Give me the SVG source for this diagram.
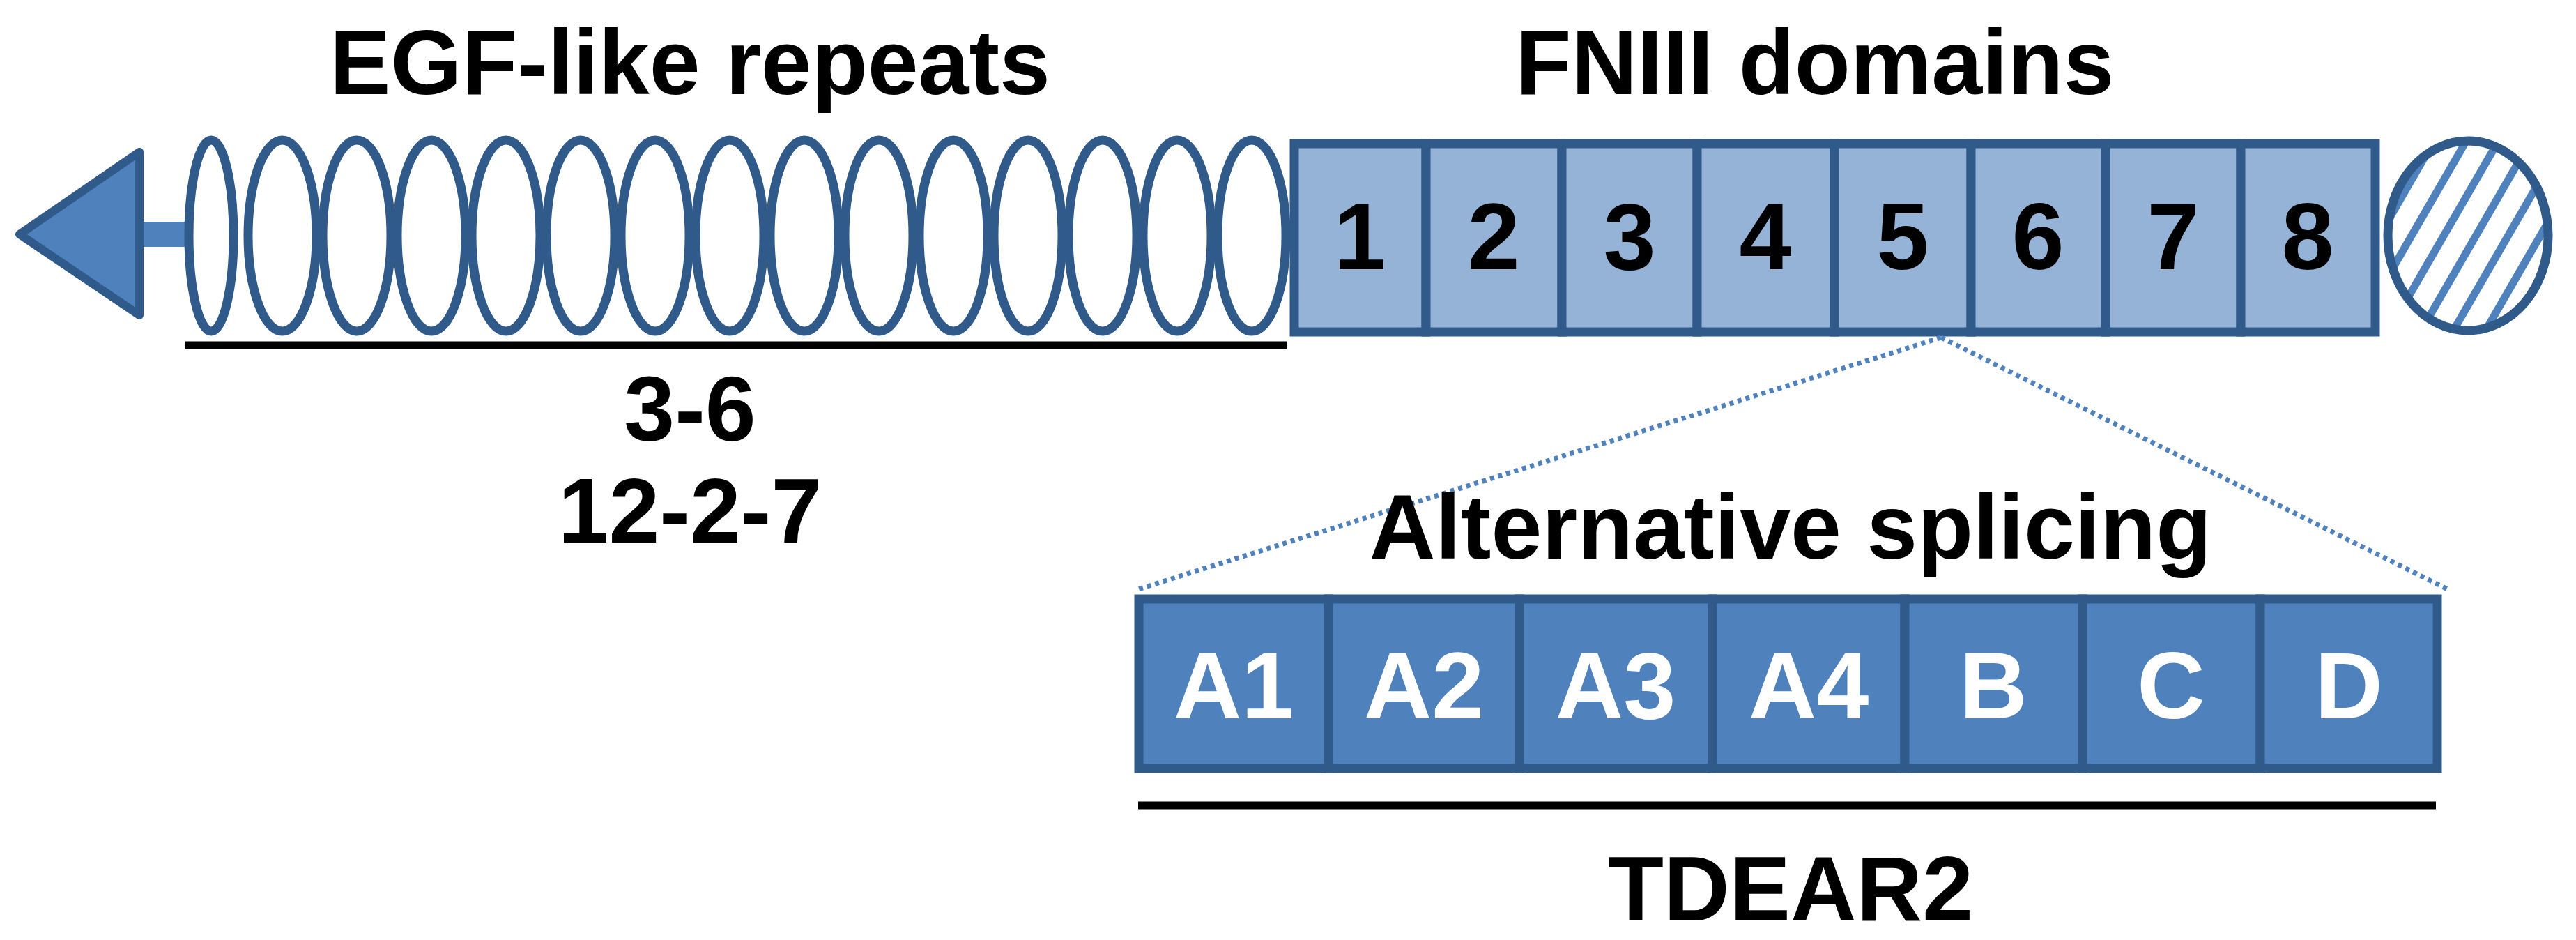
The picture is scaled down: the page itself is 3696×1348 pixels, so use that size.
<svg xmlns="http://www.w3.org/2000/svg" width="3696" height="1348" viewBox="0 0 3696 1348">
<style>
.t{font-family:"Liberation Sans",Arial,sans-serif;font-weight:bold;font-size:131px;text-anchor:middle;fill:#000}
.n{font-family:"Liberation Sans",Arial,sans-serif;font-weight:bold;font-size:135px;text-anchor:middle;fill:#000}
.w{fill:#fff}
.egf{fill:#fff;stroke:#2F5A8A;stroke-width:13}
.cell{fill:#95B3D7;stroke:#2F5A8A;stroke-width:13}
.cell2{fill:#4F81BD;stroke:#2F5A8A;stroke-width:13}
.ul{stroke:#000;stroke-width:11}
.dot{stroke:#4F81BD;stroke-width:7;stroke-dasharray:6 6;fill:none}
</style>
<defs>
<pattern id="hatch" patternUnits="userSpaceOnUse" width="40" height="40" patternTransform="rotate(-60)">
<rect width="40" height="40" fill="#fff"/>
<rect width="40" height="11" fill="#4F81BD"/>
</pattern>
</defs>
<rect width="3696" height="1348" fill="#fff"/>
<g id="titles">
<text class="t" x="990" y="135">EGF-like repeats</text>
<text class="t" x="2604" y="135">FNIII domains</text>
</g>
<g id="arrow">
<rect x="195" y="318" width="75" height="36" fill="#4F81BD"/>
<polygon points="200,218 200,452 28,336" fill="#4F81BD" stroke="#2F5A8A" stroke-width="12" stroke-linejoin="round"/>
</g>
<g id="egf">
<ellipse class="egf" cx="303" cy="338" rx="32" ry="137"/>
<ellipse class="egf" cx="405" cy="338" rx="49" ry="137"/>
<ellipse class="egf" cx="512" cy="338" rx="49" ry="137"/>
<ellipse class="egf" cx="619" cy="338" rx="49" ry="137"/>
<ellipse class="egf" cx="726" cy="338" rx="49" ry="137"/>
<ellipse class="egf" cx="833" cy="338" rx="49" ry="137"/>
<ellipse class="egf" cx="940" cy="338" rx="49" ry="137"/>
<ellipse class="egf" cx="1047" cy="338" rx="49" ry="137"/>
<ellipse class="egf" cx="1154" cy="338" rx="49" ry="137"/>
<ellipse class="egf" cx="1261" cy="338" rx="49" ry="137"/>
<ellipse class="egf" cx="1368" cy="338" rx="49" ry="137"/>
<ellipse class="egf" cx="1475" cy="338" rx="49" ry="137"/>
<ellipse class="egf" cx="1582" cy="338" rx="49" ry="137"/>
<ellipse class="egf" cx="1689" cy="338" rx="49" ry="137"/>
<ellipse class="egf" cx="1796" cy="338" rx="49" ry="137"/>
</g>
<g id="fn3">
<rect class="cell" x="1857" y="206" width="189" height="270"/>
<rect class="cell" x="2046" y="206" width="195" height="270"/>
<rect class="cell" x="2241" y="206" width="194" height="270"/>
<rect class="cell" x="2435" y="206" width="197" height="270"/>
<rect class="cell" x="2632" y="206" width="196" height="270"/>
<rect class="cell" x="2828" y="206" width="193" height="270"/>
<rect class="cell" x="3021" y="206" width="194" height="270"/>
<rect class="cell" x="3215" y="206" width="193" height="270"/>
<text class="n" x="1951" y="386">1</text>
<text class="n" x="2143" y="386">2</text>
<text class="n" x="2338" y="386">3</text>
<text class="n" x="2533" y="386">4</text>
<text class="n" x="2730" y="386">5</text>
<text class="n" x="2924" y="386">6</text>
<text class="n" x="3118" y="386">7</text>
<text class="n" x="3311" y="386">8</text>
</g>
<g id="tm">
<ellipse cx="3541" cy="338" rx="115" ry="136" fill="url(#hatch)" stroke="#2F5A8A" stroke-width="13"/>
</g>
<g id="egf-label">
<line class="ul" x1="266" y1="495" x2="1846" y2="495"/>
<text class="t" x="990" y="632">3-6</text>
<text class="t" x="990" y="778">12-2-7</text>
</g>
<g id="connectors">
<line class="dot" x1="2785" y1="484" x2="1633" y2="845"/>
<line class="dot" x1="2785" y1="484" x2="3512" y2="845"/>
</g>
<g id="splice">
<text class="t" x="2569" y="801">Alternative splicing</text>
<rect class="cell2" x="1634" y="859" width="272" height="243"/>
<rect class="cell2" x="1906" y="859" width="274" height="243"/>
<rect class="cell2" x="2180" y="859" width="277" height="243"/>
<rect class="cell2" x="2457" y="859" width="276" height="243"/>
<rect class="cell2" x="2733" y="859" width="255" height="243"/>
<rect class="cell2" x="2988" y="859" width="255" height="243"/>
<rect class="cell2" x="3243" y="859" width="254" height="243"/>
<text class="n w" x="1770" y="1030">A1</text>
<text class="n w" x="2043" y="1030">A2</text>
<text class="n w" x="2318" y="1030">A3</text>
<text class="n w" x="2595" y="1030">A4</text>
<text class="n w" x="2860" y="1030">B</text>
<text class="n w" x="3115" y="1030">C</text>
<text class="n w" x="3370" y="1030">D</text>
<line class="ul" x1="1633" y1="1155" x2="3495" y2="1155"/>
<text class="t" x="2569" y="1320">TDEAR2</text>
</g>
</svg>
